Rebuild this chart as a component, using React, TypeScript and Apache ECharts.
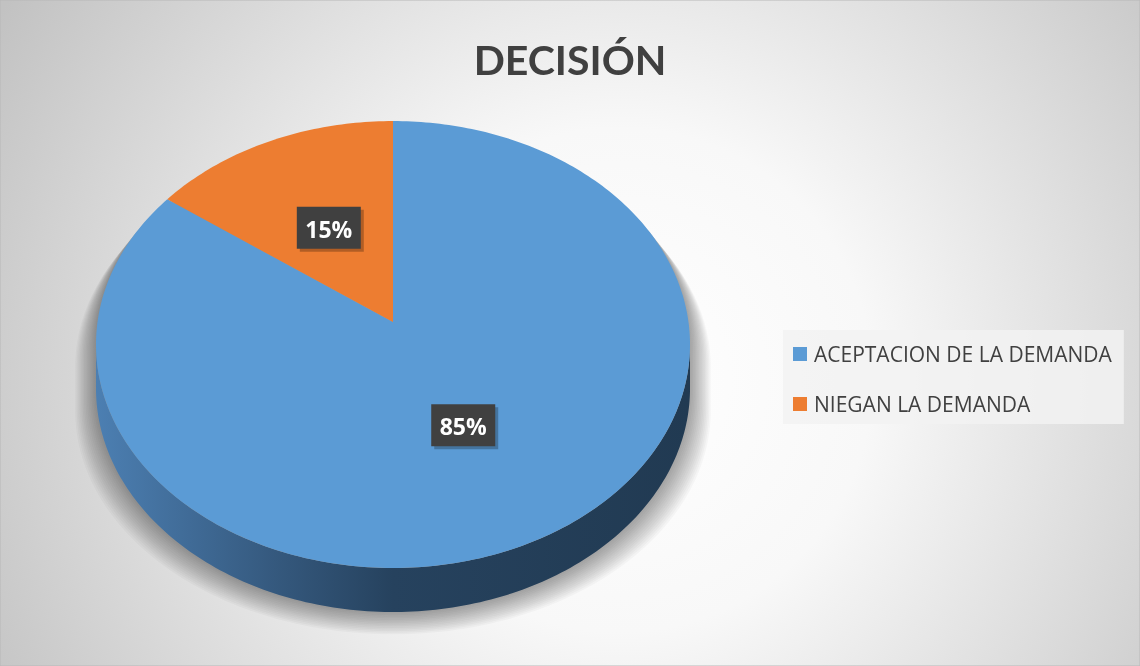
import React, { useEffect, useRef } from "react";
import * as echarts from "echarts";

const categories = ["ACEPTACION DE LA DEMANDA", "NIEGAN LA DEMANDA"];
const values = [85, 15];
const labels = ["85%", "15%"];
const colors = ["#5b9bd5", "#ed7d31"];

// projection of a tilted disc (perspective)
const CX = 393;
const CY = 322;
const A = 295.5;
const B = 221.2;
const K = 0.1007;
const DEPTH = 44;

function proj(phi: number, r = 1, dy = 0): [number, number] {
  const X = r * Math.sin(phi);
  const Z = r * Math.cos(phi);
  const w = 1 + K * Z;
  return [CX + (A * X) / w, CY - (B * Z) / w + dy];
}

function arc(p0: number, p1: number, dy = 0): [number, number][] {
  const pts: [number, number][] = [];
  const n = Math.max(2, Math.ceil(((p1 - p0) * 180) / Math.PI));
  for (let i = 0; i <= n; i++) pts.push(proj(p0 + ((p1 - p0) * i) / n, 1, dy));
  return pts;
}

export default function App() {
  const ref = useRef<HTMLDivElement>(null);
  useEffect(() => {
    if (!ref.current) return;
    const chart = echarts.init(ref.current, undefined, { renderer: "svg" });
    const total = values.reduce((s, v) => s + v, 0);
    const starts: number[] = [];
    let acc = 0;
    values.forEach((v) => {
      starts.push(acc);
      acc += v;
    });
    const silL = Math.acos(-K);
    const silR = 2 * Math.PI - silL;

    const makeRender = (idx: number) => (params: any, api: any) => {
      const p0 = (starts[idx] / total) * 2 * Math.PI;
      const p1 = ((starts[idx] + values[idx]) / total) * 2 * Math.PI;
      const children: any[] = [];
      if (idx === 0) {
        // soft cast shadow behind the whole disc, built from translucent layers
        const sil = arc(silL, silR, DEPTH).concat(arc(silR, silL + 2 * Math.PI, 0));
        for (let i = 14; i >= 1; i--) {
          const sx = 1 + 0.005 * i;
          const oy = 1.6 * i;
          children.push({
            type: "polygon",
            shape: {
              points: sil.map(([x, y]) => [CX + (x - CX) * sx, y + oy]),
            },
            style: { fill: "rgba(0,0,0,0.028)" },
          });
        }
      }
      const s = Math.max(p0, silL);
      const e = Math.min(p1, silR);
      if (e > s) {
        const top = arc(s, e);
        const bot = arc(s, e, DEPTH).reverse();
        children.push({
          type: "polygon",
          shape: { points: top.concat(bot) },
          style: {
            fill: new echarts.graphic.LinearGradient(
              96, 0, 690, 0,
              [
                { offset: 0, color: "#4c7fb2" },
                { offset: 0.3, color: "#35597e" },
                { offset: 0.5, color: "#26425e" },
                { offset: 1, color: "#213a52" },
              ],
              true
            ),
          },
        });
      }
      const topPts = [[CX, CY] as [number, number]].concat(arc(p0, p1));
      children.push({
        type: "polygon",
        shape: { points: topPts },
        style: { fill: colors[idx] },
      });
      const mid = (p0 + p1) / 2;
      const [lx, ly] = proj(mid, 0.5);
      children.push({
        type: "rect",
        shape: { x: lx - 29, y: ly - 18, width: 64, height: 42 },
        style: { fill: "rgba(0,0,0,0.25)" },
      });
      children.push({
        type: "rect",
        shape: { x: lx - 32, y: ly - 21, width: 64, height: 42 },
        style: { fill: "#404040" },
      });
      children.push({
        type: "text",
        x: lx,
        y: ly + 1,
        style: {
          text: labels[idx],
          fill: "#ffffff",
          font: "bold 23px 'Open Sans'",
          align: "center",
          verticalAlign: "middle",
        },
      });
      return { type: "group", children };
    };

    chart.setOption({
      animation: false,
      title: {
        text: "DECISIÓN",
        left: "center",
        top: 34,
        textStyle: {
          fontSize: 41,
          fontWeight: "bold",
          color: "#404040",
          fontFamily: "Lato",
        },
      },
      graphic: [
        {
          type: "rect",
          z: -10,
          silent: true,
          shape: { x: 0, y: 0, width: 1140, height: 666 },
          style: {
            fill: new echarts.graphic.RadialGradient(
              620, 380, 720,
              [
                { offset: 0, color: "#ffffff" },
                { offset: 0.35, color: "#f8f8f8" },
                { offset: 1, color: "#c2c2c2" },
              ],
              true
            ),
            stroke: "#b8b8b8",
            lineWidth: 1,
          },
        },
      ],
      legend: {
        orient: "vertical",
        left: 783,
        top: 330,
        data: categories,
        icon: "rect",
        itemWidth: 14,
        itemHeight: 14,
        itemGap: 26,
        padding: [12, 12, 8, 10],
        backgroundColor: "rgba(242,242,242,0.85)",
        textStyle: {
          fontSize: 21,
          lineHeight: 20,
          color: "#404040",
          fontFamily: "'Open Sans'",
          padding: [4, 0, 0, 2],
        },
      },
      series: categories.map((name, i) => ({
        type: "custom",
        name,
        coordinateSystem: "none",
        itemStyle: { color: colors[i] },
        data: [{ name, value: values[i] }],
        renderItem: makeRender(i),
        z: 2 + i,
      })),
    });
    return () => chart.dispose();
  }, []);
  return (
    <div
      ref={ref}
      style={{ position: "fixed", left: 0, top: 0, width: 1140, height: 666 }}
    />
  );
}
